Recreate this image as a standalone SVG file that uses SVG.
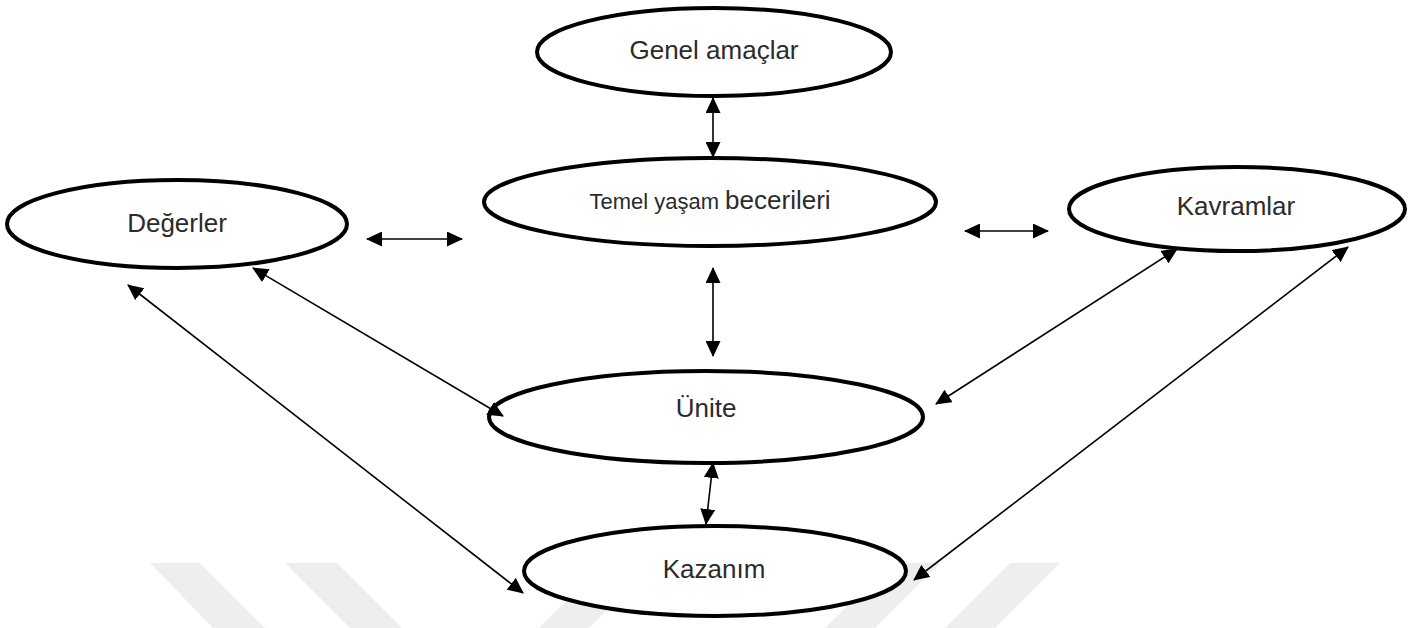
<svg xmlns="http://www.w3.org/2000/svg" width="1417" height="628" viewBox="0 0 1417 628">
<style>
.node ellipse{fill:#fff;stroke:#000;stroke-width:4}
.node text{font-family:"Liberation Sans",Arial,sans-serif;font-size:26px;fill:#2b2b2b;text-anchor:middle}
.conn line{stroke:#000;stroke-width:1.6;marker-start:url(#ah);marker-end:url(#ah)}
.wm{fill:#eeeeee}
</style>
<defs>
<marker id="ah" markerUnits="userSpaceOnUse" markerWidth="16" markerHeight="15" refX="15" refY="7.5" orient="auto-start-reverse" viewBox="0 0 16 15">
<path d="M0,0 L16,7.5 L0,15 z" fill="#000"/>
</marker>
</defs>
<rect width="1417" height="628" fill="#fff"/>
<g id="watermark">
<polygon class="wm" points="150,563 200,563 265,628 213,628"/>
<polygon class="wm" points="285,563 337,563 402,628 350,628"/>
<polygon class="wm" points="604,563 654,563 589,628 539,628"/>
<polygon class="wm" points="890,563 940,563 875,628 825,628"/>
<polygon class="wm" points="1010,563 1060,563 995,628 945,628"/>
</g>
<g id="genel" class="node">
<ellipse cx="714" cy="52" rx="177" ry="44"/>
<text x="714" y="59">Genel amaçlar</text>
</g>
<g id="temel" class="node">
<ellipse cx="710" cy="202" rx="226" ry="44"/>
<text x="710" y="209"><tspan font-size="22">Temel yaşam </tspan><tspan font-size="26">becerileri</tspan></text>
</g>
<g id="degerler" class="node">
<ellipse cx="177" cy="224" rx="170" ry="44"/>
<text x="177" y="232">Değerler</text>
</g>
<g id="kavramlar" class="node">
<ellipse cx="1237" cy="209" rx="168" ry="42"/>
<text x="1236" y="215">Kavramlar</text>
</g>
<g id="unite" class="node">
<ellipse cx="706" cy="417" rx="217" ry="46"/>
<text x="706" y="417">Ünite</text>
</g>
<g id="kazanim" class="node">
<ellipse cx="715" cy="571" rx="191" ry="45"/>
<text x="714" y="578">Kazanım</text>
</g>
<g id="connectors" class="conn">
<line x1="713" y1="98" x2="713" y2="157"/>
<line x1="367" y1="239" x2="462" y2="239"/>
<line x1="965" y1="231" x2="1048" y2="231"/>
<line x1="713" y1="268" x2="713" y2="356"/>
<line x1="713" y1="463" x2="706" y2="524"/>
<line x1="503" y1="416" x2="253" y2="268"/>
<line x1="128" y1="285" x2="523" y2="593"/>
<line x1="1177" y1="249" x2="936" y2="404"/>
<line x1="1348" y1="247" x2="914" y2="580"/>
</g>
</svg>
